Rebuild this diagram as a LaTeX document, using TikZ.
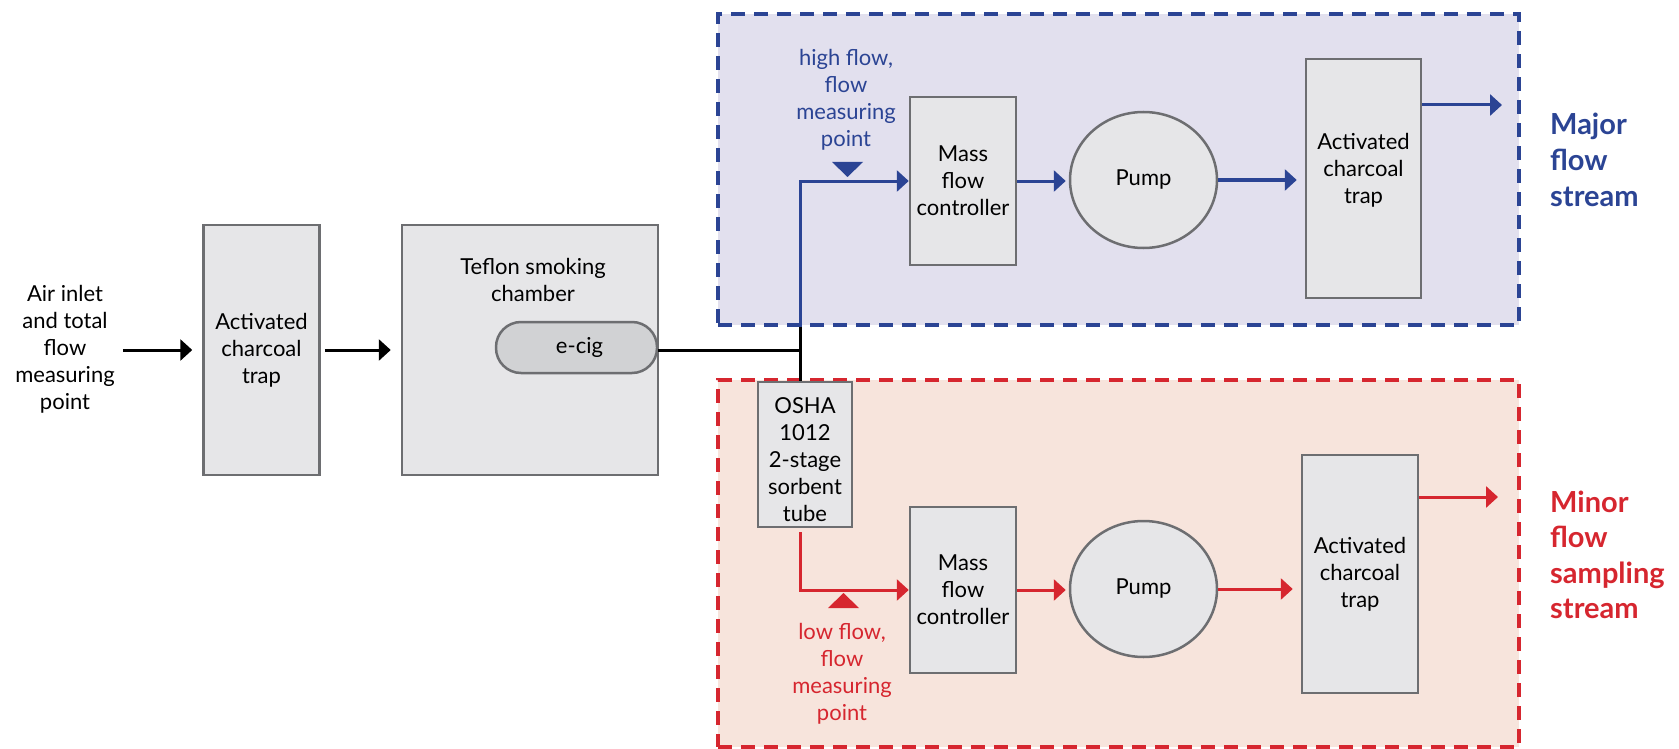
\documentclass[tikz,border=0pt]{standalone}
\usepackage{fontspec}
\setmainfont{Lato}
\usetikzlibrary{arrows.meta,shapes.geometric}
\definecolor{dblue}{HTML}{2B4494}
\definecolor{dred}{HTML}{D6262F}
\definecolor{bfill}{HTML}{E2E0EE}
\definecolor{rfill}{HTML}{F7E4DC}
\definecolor{boxfill}{HTML}{E6E6E8}
\definecolor{boxdraw}{HTML}{6D6E71}
\definecolor{cigfill}{HTML}{D1D2D4}
\begin{document}
\begin{tikzpicture}[x=1pt,y=-1pt,
  box/.style={draw=boxdraw, fill=boxfill, line width=2.5pt, inner sep=0pt, align=center,
    font=\fontsize{22}{27}\selectfont},
  txt/.style={inner sep=0pt, align=center, font=\fontsize{22}{27}\selectfont},
  region/.style={line width=4pt, dash pattern=on 14pt off 9pt, inner sep=0pt},
  blk/.style={line width=3pt, black},
  blkarr/.style={blk, -{Triangle[length=12pt,width=21pt]}},
  bline/.style={line width=3pt, dblue},
  barr/.style={bline, -{Triangle[length=12pt,width=21pt]}},
  rline/.style={line width=3pt, dred},
  rarr/.style={rline, -{Triangle[length=12pt,width=21pt]}},
  side/.style={inner sep=0pt, align=left, anchor=west, font=\fontsize{29}{36}\selectfont\bfseries}
]
\useasboundingbox (0,0) rectangle (1679,749);

% regions
\node[region, draw=dblue, fill=bfill, minimum width=801pt, minimum height=311pt] (breg) at (1118.5,169.5) {};
\node[region, draw=dred, fill=rfill, minimum width=801pt, minimum height=367pt] (rreg) at (1118.5,563.5) {};

% left part
\node[txt] (air) at (65,349.5) {Air inlet\\and total\\flow\\measuring\\point};
\node[box, minimum width=116pt, minimum height=250pt] (trap1) at (261.5,350) {Activated\\charcoal\\trap};
\node[box, minimum width=256pt, minimum height=250pt] (chamber) at (530,350) {};
\node[txt] (chtext) at (533,280) {Teflon smoking\\chamber};
\node[box, fill=cigfill, rounded corners=25pt, minimum width=161pt, minimum height=51pt] (ecig) at (576.5,347.5) {\hspace*{6pt}e-cig};
\coordinate (junc) at (800,350);

\draw[blkarr] (air.east |- trap1.west) ++(8pt,0) -- ([xshift=-10pt]trap1.west);
\draw[blkarr] ([xshift=4pt]trap1.east) -- ([xshift=-10pt]chamber.west);

% upper stream
\node[box, minimum width=106pt, minimum height=168pt] (mfc1) at (963,181) {Mass\\flow\\controller};
\node[box, ellipse, minimum width=147pt, minimum height=136pt] (pump1) at (1143.5,180) {Pump};
\node[box, minimum width=115pt, minimum height=239pt] (trap3) at (1363.5,178.5) {};
\node[txt] (trap3t) at (1363.5,170) {Activated\\charcoal\\trap};
\node[txt, text=dblue] (hightxt) at (846,100) {high flow,\\flow\\measuring\\point};
\node[side, text=dblue] (major) at (1550,160) {Major\\flow\\stream};
\coordinate (out1) at (1502,105);

% lower stream
\node[box, minimum width=94pt, minimum height=145pt] (osha) at (805,454.5) {};
\node[txt] (oshat) at (805,460) {OSHA\\1012\\2-stage\\sorbent\\tube};
\node[box, minimum width=106pt, minimum height=166pt] (mfc2) at (963,590) {Mass\\flow\\controller};
\node[box, ellipse, minimum width=147pt, minimum height=136pt] (pump2) at (1143.5,589) {Pump};
\node[box, minimum width=116pt, minimum height=238pt] (trap4) at (1360,574) {Activated\\charcoal\\trap};
\node[txt, text=dred] (lowtxt) at (842,674) {low flow,\\flow\\measuring\\point};
\node[side, text=dred, font=\fontsize{29}{35.5}\selectfont\bfseries] (minor) at (1550,555) {Minor\\flow\\sampling\\stream};
\coordinate (out2) at (1498,497);
\coordinate (redstart) at (800,532);

% connectors
\draw[blk] (ecig.east |- junc) -- (junc);
\draw[blk] (junc |- breg.south) -- (junc |- osha.north);
\draw[barr] (junc |- breg.south) |- (mfc1.west);
\draw[barr] (mfc1.east) -- ([xshift=-3pt]pump1.west |- mfc1.east);
\draw[barr] (pump1.east) -- ([xshift=-8pt]trap3.west |- pump1.east);
\draw[barr] (out1 -| trap3.east) -- (out1);

\draw[rarr] (redstart) |- (mfc2.west);
\draw[rarr] (mfc2.east) -- ([xshift=-3pt]pump2.west |- mfc2.east);
\draw[rarr] (pump2.east) -- ([xshift=-8pt]trap4.west |- pump2.east);
\draw[rarr] (out2 -| trap4.east) -- (out2);

% measuring point markers
\coordinate (hfp) at (847.5,177);
\fill[dblue] (hfp) -- ++(-15.5,-15) -- ++(31,0) -- cycle;
\coordinate (lfp) at (843.5,593);
\fill[dred] (lfp) -- ++(-15.5,15) -- ++(31,0) -- cycle;
\end{tikzpicture}
\end{document}
